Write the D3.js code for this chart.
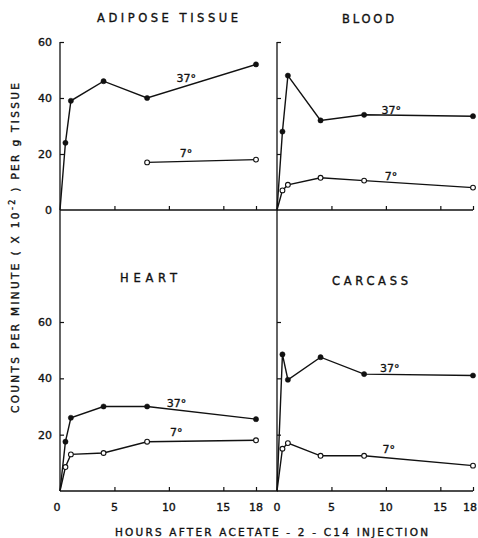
<!DOCTYPE html>
<html>
<head>
<meta charset="utf-8">
<script src="https://cdn.jsdelivr.net/npm/d3@7"></script>
<style>
  body { margin: 0; background: #fff; }
  text { font-family: 'DejaVu Sans', sans-serif; fill: #111; stroke: #111; stroke-width: 0.35px; }
</style>
</head>
<body>
<script>
// hours after injection (0 = origin, no marker)
const hours = [0, 0.5, 1, 4, 8, 18];
const adipose37 = [0, 24, 39, 46, 40, 52];
const adipose7Hours = [8, 18];
const adipose7 = [17, 18];
const blood37 = [0, 28, 48, 32, 34, 33.5];
const blood7 = [0, 7, 9, 11.5, 10.5, 8];
const heart37 = [0, 17.5, 26, 30, 30, 25.5];
const heart7 = [0, 8.5, 13, 13.5, 17.5, 18];
const carcass37 = [0, 48.5, 39.5, 47.5, 41.5, 41];
const carcass7 = [0, 15, 17, 12.5, 12.5, 9];

const xTicks = [0, 5, 10, 15, 18];
const yTicks = [0, 20, 40, 60];
const titles = ['ADIPOSE TISSUE', 'BLOOD', 'HEART', 'CARCASS'];
const tempLabels = ['37°', '7°'];

const width = 478;
const height = 538;

const svg = d3.select('body').append('svg')
    .attr('width', width)
    .attr('height', height);

let xLeft = d3.scaleLinear().domain([0, 18]).range([60, 256]);
let xRight = d3.scaleLinear().domain([0, 18]).range([277, 473]);
let yTop = d3.scaleLinear().domain([0, 60]).range([210, 42]);
let yBottom = d3.scaleLinear().domain([0, 60]).range([491, 322]);

const zip = (hs, vs) => hs.map((h, i) => [h, vs[i]]);

const panels = [
    { title: titles[0], x: xLeft, y: yTop, xEnd: 20, yStart: 0, yLabels: true, xLabels: false,
      titleAt: [97, 22, 141],
      series: [{ pts: zip(hours, adipose37), open: false, label: [10.7, 45.7] },
               { pts: zip(adipose7Hours, adipose7), open: true, label: [11, 19] }] },
    { title: titles[1], x: xRight, y: yTop, xEnd: 18, yStart: 0, yLabels: false, xLabels: false,
      titleAt: [342, 23, 52],
      series: [{ pts: zip(hours, blood37), open: false, label: [9.6, 34.3] },
               { pts: zip(hours, blood7), open: true, label: [9.9, 10.7] }] },
    { title: titles[2], x: xLeft, y: yBottom, xEnd: 20, yStart: yTop(0), yLabels: true, xLabels: true,
      titleAt: [120, 282, 57],
      series: [{ pts: zip(hours, heart37), open: false, label: [9.8, 29.8] },
               { pts: zip(hours, heart7), open: true, label: [10.1, 19.5] }] },
    { title: titles[3], x: xRight, y: yBottom, xEnd: 18, yStart: yTop(0), yLabels: false, xLabels: true,
      titleAt: [332, 285, 76],
      series: [{ pts: zip(hours, carcass37), open: false, label: [9.45, 42.2] },
               { pts: zip(hours, carcass7), open: true, label: [9.7, 13.5] }] }
];

function drawPanel(p) {
    let g = svg.append('g');
    let x = p.x, y = p.y;

    // axes lines
    g.append('line')
        .attr('x1', x(0)).attr('x2', x(p.xEnd))
        .attr('y1', y(0)).attr('y2', y(0))
        .attr('stroke', '#111').attr('stroke-width', 1.3);
    g.append('line')
        .attr('x1', x(0)).attr('x2', x(0))
        .attr('y1', y(0)).attr('y2', p.yStart ? p.yStart : y(60))
        .attr('stroke', '#111').attr('stroke-width', 1.3);

    // ticks pointing inward
    let xAxis = d3.axisBottom(x).tickValues(xTicks.slice(1)).tickSize(-4).tickSizeOuter(0)
        .tickFormat('');
    g.append('g').attr('transform', `translate(0,${y(0)})`).call(xAxis)
        .call(a => a.select('.domain').remove())
        .selectAll('line').attr('stroke', '#111').attr('stroke-width', 1.2);

    let yAxis = d3.axisLeft(y).tickValues(yTicks.slice(1)).tickSize(-4).tickSizeOuter(0)
        .tickFormat('');
    g.append('g').attr('transform', `translate(${x(0)},0)`).call(yAxis)
        .call(a => a.select('.domain').remove())
        .selectAll('line').attr('stroke', '#111').attr('stroke-width', 1.2);

    if (p.yLabels) {
        let vals = p.y === yTop ? yTicks : yTicks.slice(1);
        g.selectAll('.ylab').data(vals).enter().append('text')
            .attr('x', x(0) - 8).attr('y', d => y(d) + 4)
            .attr('text-anchor', 'end')
            .style('font-size', '11px')
            .text(d => d);
    }
    if (p.xLabels) {
        let lastRight = p.x === xRight;
        g.selectAll('.xlab').data(xTicks).enter().append('text')
            .attr('x', d => {
                if (d === 0 && p.x === xLeft) return x(d) - 3;
                if (d === 18 && lastRight) return width - 1;
                return x(d);
            })
            .attr('y', y(0) + 20)
            .attr('text-anchor', d => (d === 18 && lastRight) ? 'end' : 'middle')
            .style('font-size', '11px')
            .text(d => d);
    }

    // title
    g.append('text')
        .attr('x', p.titleAt[0]).attr('y', p.titleAt[1])
        .attr('textLength', p.titleAt[2]).attr('lengthAdjust', 'spacing')
        .style('font-size', '11.5px')
        .text(p.title);

    let line = d3.line().x(d => x(d[0])).y(d => y(d[1]));

    p.series.forEach((s, i) => {
        g.append('path')
            .attr('d', line(s.pts))
            .attr('fill', 'none')
            .attr('stroke', '#111')
            .attr('stroke-width', 1.4);
        g.selectAll(null).data(s.pts.filter(d => d[0] > 0)).enter().append('circle')
            .attr('cx', d => x(d[0])).attr('cy', d => y(d[1]))
            .attr('r', s.open ? 2.4 : 2.6)
            .attr('fill', s.open ? '#fff' : '#111')
            .attr('stroke', '#111')
            .attr('stroke-width', s.open ? 1.1 : 0.5);
        g.append('text')
            .attr('x', x(s.label[0])).attr('y', y(s.label[1]))
            .style('font-size', '11px')
            .text(tempLabels[i]);
    });
}

panels.forEach(drawPanel);

// shared axis titles
svg.append('text')
    .attr('transform', 'translate(19,248) rotate(-90)')
    .attr('text-anchor', 'middle')
    .attr('textLength', 330).attr('lengthAdjust', 'spacing')
    .style('font-size', '10.5px')
    .html('COUNTS PER MINUTE ( X 10<tspan dy="-4" style="font-size:8px">-2</tspan><tspan dy="4"> ) PER g TISSUE</tspan>');

svg.append('text')
    .attr('x', 115).attr('y', 536)
    .attr('textLength', 313).attr('lengthAdjust', 'spacing')
    .style('font-size', '10.5px')
    .text('HOURS AFTER ACETATE - 2 - C14 INJECTION');
</script>
</body>
</html>
